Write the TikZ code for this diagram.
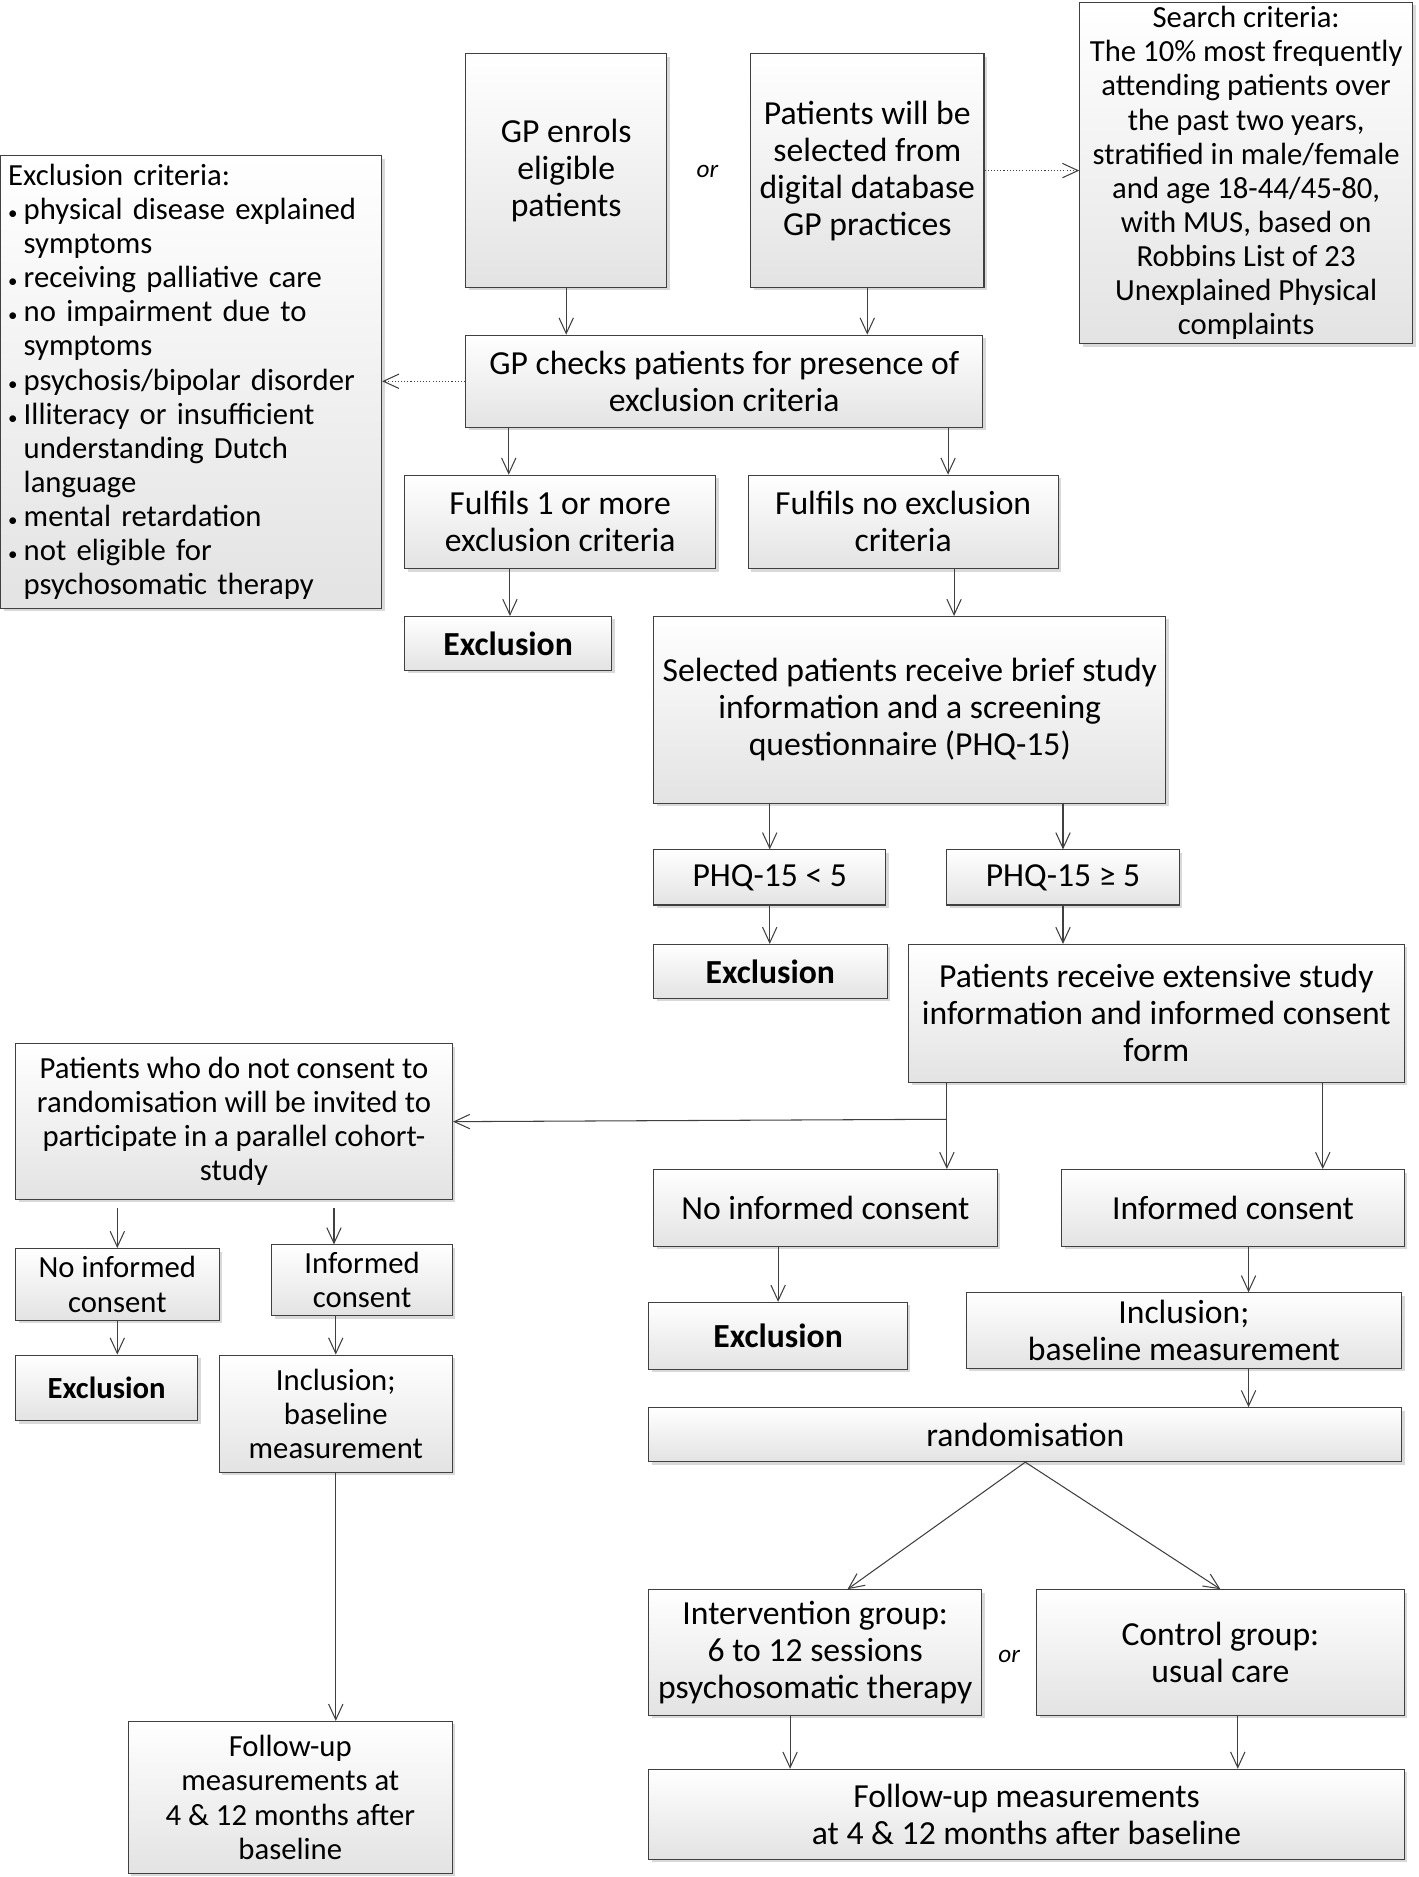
\documentclass[tikz,border=0pt]{standalone}
\usepackage{fontspec}
\setmainfont{Carlito}
\usetikzlibrary{arrows.meta,shadows}

\newcommand\bul{\makebox[0.26cm][l]{\fontsize{9}{9}\selectfont\textbullet}}
\newcommand\ind{\hspace*{0.26cm}}

\begin{document}
\begin{tikzpicture}[
        x=0.02cm, y=-0.02cm,
        box/.style={draw=black!75, line width=0.5pt, top color=white, bottom color=black!11,
            drop shadow={shadow xshift=0.5mm, shadow yshift=-0.5mm, opacity=0.3},
            align=center, inner sep=2pt, font=\fontsize{16}{17.6}\selectfont},
        smallbox/.style={box, font=\fontsize{14.6}{16.2}\selectfont},
        excl/.style={box, font=\fontsize{16}{17.6}\selectfont\bfseries},
        smallexcl/.style={box, font=\fontsize{14.6}{16.2}\selectfont\bfseries},
        boxsize/.style 2 args={minimum width=#1*0.02cm, minimum height=#2*0.02cm},
        orlbl/.style={font=\fontsize{12}{12}\selectfont\itshape, inner sep=1pt},
        arr/.style={draw=black!75, line width=0.5pt, -{Straight Barb[length=2.6mm, width=2.4mm]}},
        hint/.style={arr, densely dotted}
    ]
        \useasboundingbox (0,0) rectangle (1185,1568);

        \node[box, boxsize={168}{195}] (enrol) at (473,142.5) {GP enrols\\eligible\\patients};
        \node[box, boxsize={195}{195}] (select) at (724.5,142.5) {Patients will be\\selected from\\digital database\\GP practices};
        \node[orlbl] (or1) at (591,143) {or};
        \node[smallbox, boxsize={278}{285}] (search) at (1041,144.5) {Search criteria:\\The 10\% most frequently\\attending patients over\\the past two years,\\stratified in male/female\\and age 18-44/45-80,\\with MUS, based on\\Robbins List of 23\\Unexplained Physical\\complaints};
        \node[smallbox, boxsize={318}{378}, align=left, text width=6.12cm, inner xsep=0.12cm] (excrit) at (159.8,319) {Exclusion criteria:\\
            \bul physical disease explained\\
            \ind symptoms\\
            \bul receiving palliative care\\
            \bul no impairment due to\\
            \ind symptoms\\
            \bul psychosis/bipolar disorder\\
            \bul Illiteracy or insufficient\\
            \ind understanding Dutch\\
            \ind language\\
            \bul mental retardation\\
            \bul not eligible for\\
            \ind psychosomatic therapy};
        \node[box, boxsize={432}{77}] (check) at (605,318.5) {GP checks patients for presence of\\exclusion criteria};
        \node[box, boxsize={260}{78}] (fulmore) at (468,436) {Fulfils 1 or more\\exclusion criteria};
        \node[box, boxsize={259}{78}] (fulno) at (754.5,436) {Fulfils no exclusion\\criteria};
        \node[excl, boxsize={173}{45}] (exclA) at (424.5,537.5) {Exclusion};
        \node[box, boxsize={428}{156}] (brief) at (760,593) {Selected patients receive brief study\\information and a screening\\questionnaire (PHQ-15)};
        \node[box, boxsize={194}{46}] (phqlo) at (643,733) {PHQ-15 < 5};
        \node[box, boxsize={194}{46}] (phqhi) at (888,733) {PHQ-15 ≥ 5};
        \node[excl, boxsize={195}{45}] (exclB) at (643.5,811.5) {Exclusion};
        \node[box, boxsize={414}{115}] (extensive) at (966,846.5) {Patients receive extensive study\\information and informed consent\\form};
        \node[smallbox, boxsize={365}{130}] (cohort) at (195.5,937) {Patients who do not consent to\\randomisation will be invited to\\participate in a parallel cohort-\\study};
        \node[box, boxsize={287}{64}] (noicR) at (689.5,1009) {No informed consent};
        \node[box, boxsize={286}{64}] (icR) at (1030,1009) {Informed consent};
        \node[smallbox, boxsize={170}{60}] (noicL) at (98,1073) {No informed\\consent};
        \node[smallbox, boxsize={151}{59}] (icL) at (302.5,1069.5) {Informed\\consent};
        \node[excl, boxsize={216}{56}] (exclC) at (650,1116) {Exclusion};
        \node[box, boxsize={364}{63}] (inclR) at (989,1111.5) {Inclusion;\\baseline measurement};
        \node[smallexcl, boxsize={152}{55}] (exclD) at (89,1159.5) {Exclusion};
        \node[smallbox, boxsize={195}{98}] (inclL) at (280.5,1181) {Inclusion;\\baseline\\measurement};
        \node[box, boxsize={629}{45}] (rand) at (856.5,1198.5) {randomisation};
        \node[box, boxsize={278}{105}] (interv) at (681,1380.5) {Intervention group:\\6 to 12 sessions\\psychosomatic therapy};
        \node[orlbl] (or2) at (843,1384) {or};
        \node[box, boxsize={307}{105}] (control) at (1019.5,1380.5) {Control group:\\usual care};
        \node[smallbox, boxsize={271}{127}] (fuL) at (242.5,1501.5) {Follow-up\\measurements at\\4 \& 12 months after\\baseline};
        \node[box, boxsize={631}{75}] (fuR) at (857.5,1515.5) {Follow-up measurements\\at 4 \& 12 months after baseline};

        \coordinate (split) at (791,935);

        \draw[arr] (enrol) -- (enrol |- check.north);
        \draw[arr] (select) -- (select |- check.north);
        \draw[hint] (select.east) -- (select.east -| search.west);
        \draw[hint] (check.west) -- (check.west -| excrit.east);
        \draw[arr] (425,0 |- check.south) -- (425,0 |- fulmore.north);
        \draw[arr] (792,0 |- check.south) -- (792,0 |- fulno.north);
        \draw[arr] (426,0 |- fulmore.south) -- (426,0 |- exclA.north);
        \draw[arr] (797,0 |- fulno.south) -- (797,0 |- brief.north);
        \draw[arr] (phqlo |- brief.south) -- (phqlo);
        \draw[arr] (phqhi |- brief.south) -- (phqhi);
        \draw[arr] (phqlo) -- (phqlo |- exclB.north);
        \draw[arr] (phqhi) -- (phqhi |- extensive.north);
        \draw[arr] (791,0 |- extensive.south) -- (791,0 |- noicR.north);
        \draw[arr] (1105,0 |- extensive.south) -- (1105,0 |- icR.north);
        \draw[arr] (split) -- (cohort.east);
        \draw[arr, shorten <=0.14cm] (noicL |- cohort.south) -- (noicL);
        \draw[arr, shorten <=0.14cm] (279,0 |- cohort.south) -- (279,0 |- icL.north);
        \draw[arr] (noicL) -- (noicL |- exclD.north);
        \draw[arr] (inclL |- icL.south) -- (inclL);
        \draw[arr] (exclC |- noicR.south) -- (exclC);
        \draw[arr] (1043,0 |- icR.south) -- (1043,0 |- inclR.north);
        \draw[arr] (1043,0 |- inclR.south) -- (1043,0 |- rand.north);
        \draw[arr] (rand.south) -- (708,0 |- interv.north);
        \draw[arr] (rand.south) -- (control.north);
        \draw[arr] (660,0 |- interv.south) -- (660,0 |- fuR.north);
        \draw[arr] (1034,0 |- control.south) -- (1034,0 |- fuR.north);
        \draw[arr] (inclL) -- (inclL |- fuL.north);
\end{tikzpicture}
\end{document}
